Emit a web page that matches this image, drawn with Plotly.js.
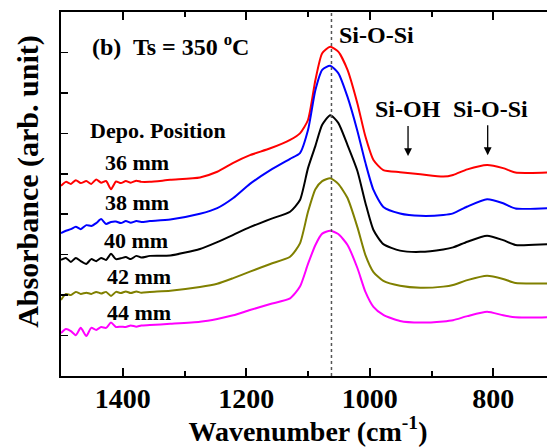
<!DOCTYPE html>
<html>
<head>
<meta charset="utf-8">
<script src="https://cdn.plot.ly/plotly-3.0.1.min.js"></script>
<style>
html, body { margin: 0; padding: 0; overflow: hidden; background: #fff; }
#chart { width: 555px; height: 447px; }
</style>
</head>
<body>
<div id="chart"></div>
<script>
// Wavenumber grid (cm^-1)
const wavenumber = [1500,1492,1484,1476,1468,1459,1451,1443,1435,1427,1419,1411,1403,1395,1387,1378,1370,
  1356,1323,1275,1247,1221,1194,1161,1129,1113,1100,1088,1077,1064,1051,1036,1020,1007,994,978,951,918,881,865,842,810,784,764,712,700];

// Absorbance (arb. unit, vertically offset spectra)
const abs36 = [4.70,4.80,4.75,4.84,4.77,4.82,4.75,4.86,4.78,4.82,4.62,4.81,4.77,4.82,4.78,4.83,4.80,
  4.80,4.85,4.91,5.05,5.27,5.46,5.63,5.84,6.00,6.33,7.32,7.98,8.14,8.02,7.57,6.74,5.92,5.34,5.09,5.04,4.99,4.93,4.97,5.11,5.22,5.14,5.03,5.03,5.03];
const abs38 = [3.53,3.59,3.63,3.69,3.63,3.73,3.71,3.78,3.88,3.76,3.81,3.82,3.78,3.83,3.79,3.83,3.81,
  3.83,3.87,4.01,4.15,4.40,4.75,5.09,5.37,5.51,6.08,7.07,7.57,7.67,7.49,6.90,6.06,5.27,4.60,4.18,4.02,3.96,3.98,4.02,4.19,4.37,4.27,4.14,4.15,4.15];
const abs40 = [2.87,2.92,2.82,2.92,2.84,2.77,2.89,2.84,2.92,2.87,3.02,2.89,2.91,2.94,2.89,2.97,2.93,
  2.97,2.98,3.14,3.31,3.49,3.68,3.88,4.06,4.35,5.14,5.69,6.21,6.45,6.26,5.71,5.07,4.28,3.61,3.26,3.10,3.07,3.13,3.18,3.32,3.47,3.36,3.24,3.26,3.26];
const abs42 = [1.88,2.03,2.00,2.08,2.03,2.06,2.03,2.08,2.04,2.08,1.98,2.08,2.05,2.09,2.05,2.09,2.06,
  2.08,2.11,2.20,2.28,2.42,2.58,2.77,2.95,3.28,4.06,4.62,4.82,4.89,4.75,4.40,3.68,2.99,2.57,2.35,2.23,2.18,2.21,2.25,2.37,2.48,2.40,2.30,2.29,2.29];
const abs44 = [1.06,1.16,1.11,1.01,1.19,0.99,1.19,1.14,1.21,1.19,1.32,1.21,1.22,1.21,1.25,1.22,1.25,
  1.26,1.29,1.34,1.41,1.50,1.63,1.78,1.92,2.21,2.77,3.24,3.52,3.59,3.51,3.24,2.67,2.08,1.71,1.51,1.36,1.32,1.35,1.38,1.48,1.59,1.50,1.45,1.45,1.45];

const seriesNames = ["36 mm","38 mm","40 mm","42 mm","44 mm"];
const seriesValues = [abs36, abs38, abs40, abs42, abs44];
const seriesColors = ["#ff0000","#0000ff","#000000","#808000","#ff00ff"];
// label positions (wavenumber, absorbance)
const labelX = [1377,1377,1379,1374,1374];
const labelY = [5.27,4.28,3.36,2.45,1.56];

const xTickVals = [1400,1200,1000,800];
const peakLine = 1062;

const FONT = "Liberation Serif, Times New Roman, serif";

const traces = seriesValues.map((v, i) => ({
  x: wavenumber, y: v, type: "scatter", mode: "lines", name: seriesNames[i],
  line: {color: seriesColors[i], width: 2, shape: "spline", smoothing: 0.6},
  showlegend: false, hoverinfo: "skip"
}));

const ann = [];
seriesNames.forEach((n, i) => ann.push({
  x: labelX[i], y: labelY[i], xref: "x", yref: "y", text: n, showarrow: false,
  font: {family: FONT, size: 22, color: "#000", weight: "bold"}, xanchor: "center", yanchor: "middle"
}));
ann.push({x: 1453, y: 8.18, xref: "x", yref: "y", text: "(b)  Ts = 350 <sup>o</sup>C", showarrow: false,
  font: {family: FONT, size: 24, color: "#000", weight: "bold"}, xanchor: "left", yanchor: "middle"});
ann.push({x: 1456, y: 6.08, xref: "x", yref: "y", text: "Depo. Position", showarrow: false,
  font: {family: FONT, size: 22, color: "#000", weight: "bold"}, xanchor: "left", yanchor: "middle"});
ann.push({x: 1053, y: 8.43, xref: "x", yref: "y", text: "Si-O-Si", showarrow: false,
  font: {family: FONT, size: 24, color: "#000", weight: "bold"}, xanchor: "left", yanchor: "middle"});
ann.push({x: 938, y: 6.6, xref: "x", yref: "y", text: "Si-OH", showarrow: false,
  font: {family: FONT, size: 24, color: "#000", weight: "bold"}, xanchor: "center", yanchor: "middle"});
ann.push({x: 805, y: 6.6, xref: "x", yref: "y", text: "Si-O-Si", showarrow: false,
  font: {family: FONT, size: 24, color: "#000", weight: "bold"}, xanchor: "center", yanchor: "middle"});
// arrows
ann.push({x: 938, y: 5.44, ax: 938, ay: 6.22, xref: "x", yref: "y", axref: "x", ayref: "y", text: "",
  showarrow: true, arrowhead: 2, arrowsize: 1.2, arrowwidth: 1.3, arrowcolor: "#000"});
ann.push({x: 809, y: 5.46, ax: 809, ay: 6.24, xref: "x", yref: "y", axref: "x", ayref: "y", text: "",
  showarrow: true, arrowhead: 2, arrowsize: 1.2, arrowwidth: 1.3, arrowcolor: "#000"});
// y title
ann.push({x: -0.067, y: 0.536, xref: "paper", yref: "paper", text: "Absorbance (arb. unit)", textangle: -90,
  showarrow: false, font: {family: FONT, size: 30, color: "#000", weight: "bold"}, xanchor: "center", yanchor: "middle"});

const layout = {
  width: 555, height: 447,
  margin: {l: 61, r: 0, t: 12, b: 71},
  paper_bgcolor: "#fff", plot_bgcolor: "#fff",
  showlegend: false,
  xaxis: {
    range: [1500, 700], tickvals: xTickVals, ticktext: xTickVals.map(String),
    ticks: "inside", ticklen: 8, tickwidth: 2, tickcolor: "#000",
    minor: {dtick: 100, tick0: 1500, ticks: "inside", ticklen: 5, tickwidth: 2, tickcolor: "#000"},
    showline: true, linewidth: 2, linecolor: "#000", mirror: "ticks",
    showgrid: false, zeroline: false, ticklabelstandoff: -4,
    tickfont: {family: FONT, size: 28, color: "#000", weight: "bold"},
    title: {text: "Wavenumber (cm<sup>-1</sup>)", font: {family: FONT, size: 28, color: "#000", weight: "bold"}, standoff: 0}
  },
  yaxis: {
    range: [0, 9], dtick: 1, tick0: 0, showticklabels: false,
    ticks: "inside", ticklen: 7, tickwidth: 1.5, tickcolor: "#000",
    showline: true, linewidth: 2, linecolor: "#000", mirror: "ticks",
    showgrid: false, zeroline: false
  },
  shapes: [{type: "line", xref: "x", yref: "paper", x0: peakLine, x1: peakLine, y0: 0, y1: 1,
    line: {color: "#555", width: 1.5, dash: "dot"}}],
  annotations: ann
};

Plotly.newPlot("chart", traces, layout, {staticPlot: true, displayModeBar: false});
</script>
</body>
</html>
